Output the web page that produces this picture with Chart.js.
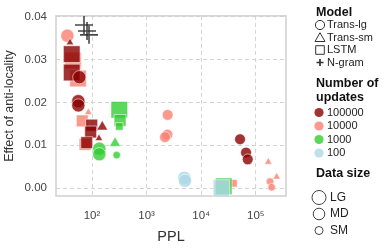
<!DOCTYPE html>
<html>
<head>
<meta charset="utf-8">
<script src="https://cdn.jsdelivr.net/npm/chart.js@4.4.0/dist/chart.umd.min.js"></script>
<style>
  html, body { margin: 0; padding: 0; background: #fff; }
  #wrap { width: 392px; height: 251px; position: relative; }
</style>
</head>
<body>
<div id="wrap"><canvas id="chart"></canvas></div>
<script>
// values (draw order = array order)
const ppl = [
  35.3, 44.9, 55.5, 85.6, 66.4, 74.5, 2430, 2400, 2170, 38700, 169000, 241000, 182000, 195000,
  39.5, 42.5, 42.5, 58.5, 56.1, 56.1, 98.8, 94.6, 154, 80, 134, 51400, 66200, 71100,
  316, 326, 316, 136, 136, 264, 283,
  4900, 5050, 25800, 23500,
  71.3, 81, 88.1
];
const effect = [
  0.0356, 0.0298, 0.0256, 0.0177, 0.0157, 0.0102, 0.0171, 0.0125, 0.0119, 0.0011, 0.0061, 0.0026, 0.0015, 0.0002,
  0.0340, 0.0313, 0.0270, 0.0259, 0.0203, 0.0193, 0.0147, 0.0131, 0.0143, 0.0106, 0.0116, 0.0114, 0.0083, 0.0067,
  0.0183, 0.0158, 0.0144, 0.0092, 0.0079, 0.0105, 0.0077,
  0.0024, 0.0017, 0.0004, 0.0000,
  0.0381, 0.0367, 0.0358
];
const model = [
  'Trans-lg', 'LSTM', 'LSTM', 'Trans-sm', 'LSTM', 'LSTM', 'Trans-lg', 'Trans-lg', 'Trans-lg', 'LSTM', 'Trans-sm', 'Trans-sm', 'Trans-lg', 'Trans-lg',
  'Trans-sm', 'LSTM', 'LSTM', 'Trans-lg', 'Trans-lg', 'Trans-lg', 'LSTM', 'LSTM', 'Trans-sm', 'LSTM', 'Trans-sm', 'Trans-lg', 'Trans-lg', 'Trans-lg',
  'LSTM', 'LSTM', 'LSTM', 'Trans-lg', 'Trans-lg', 'Trans-sm', 'Trans-lg',
  'Trans-lg', 'Trans-lg', 'LSTM', 'LSTM',
  'N-gram', 'N-gram', 'N-gram'
];
const updates = [
  10000, 10000, 10000, 10000, 10000, 10000, 10000, 10000, 10000, 10000, 10000, 10000, 10000, 10000,
  100000, 100000, 100000, 100000, 100000, 100000, 100000, 100000, 100000, 100000, 100000, 100000, 100000, 100000,
  1000, 1000, 1000, 1000, 1000, 1000, 1000,
  100, 100, 1000, 100,
  null, null, null
];
const dataSize = [
  'LG', 'LG', 'LG', 'SM', 'MD', 'MD', 'MD', 'MD', 'MD', 'SM', 'SM', 'SM', 'SM', 'SM',
  'SM', 'LG', 'LG', 'LG', 'LG', 'LG', 'MD', 'MD', 'MD', 'MD', 'SM', 'MD', 'MD', 'MD',
  'LG', 'MD', 'SM', 'LG', 'LG', 'MD', 'SM',
  'LG', 'LG', 'LG', 'LG',
  'LG', 'LG', 'LG'
];

const xTickValues = [100, 1000, 10000, 100000];
const xTickLabels = ['10²', '10³', '10⁴', '10⁵'];
const yTickValues = [0, 0.01, 0.02, 0.03, 0.04];

const modelNames = ['Trans-lg', 'Trans-sm', 'LSTM', 'N-gram'];
const updateLevels = [100000, 10000, 1000, 100];
const sizeNames = ['LG', 'MD', 'SM'];

// styling
var FONT = '"Liberation Sans", Arial, sans-serif';
var shapeOf = { 'Trans-lg': 'circle', 'Trans-sm': 'triangle', 'LSTM': 'rect', 'N-gram': 'cross' };
var colorOf = {
  100000: 'rgba(139,0,0,0.8)',
  10000: 'rgba(250,128,114,0.8)',
  1000: 'rgba(50,205,50,0.8)',
  100: 'rgba(173,216,230,0.8)'
};
var radiusOf = {
  circle:   { LG: 6.6, MD: 5.4, SM: 3.8 },
  triangle: { LG: 8, MD: 6.4, SM: 4.4 },
  rect:     { LG: 11.8, MD: 8.4, SM: 5.4 },
  cross:    { LG: 9, MD: 9, SM: 9 }
};

function pointShape(ctx) {
  var i = ctx.dataIndex;
  if (i === undefined) return 'circle';
  return shapeOf[model[i]];
}

var points = ppl.map(function(p, i) { return { x: p, y: effect[i] }; });

var frame = {
  id: 'frame',
  beforeDatasetsDraw: function(chart) {
    var a = chart.chartArea, c = chart.ctx;
    c.save();
    c.strokeStyle = '#cfcfcf';
    c.lineWidth = 1.5;
    c.strokeRect(a.left, a.top, a.right - a.left, a.bottom - a.top);
    c.restore();
  }
};

var sideLegend = {
  id: 'sideLegend',
  afterDraw: function(chart) {
    var c = chart.ctx;
    var tx = 316, mx = 320, lx = 327;
    c.save();
    c.textBaseline = 'middle';
    c.textAlign = 'left';
    function title(t, y) {
      c.font = 'bold 12.5px ' + FONT;
      c.fillStyle = '#111';
      c.fillText(t, tx, y);
    }
    function label(t, x, y) {
      c.font = '11px ' + FONT;
      c.fillStyle = '#222';
      c.fillText(t, x, y);
    }

    title('Model', 12.5);
    var my = [25, 37.5, 50, 62.5];
    c.strokeStyle = '#333';
    c.lineWidth = 1;
    modelNames.forEach(function(name, k) {
      var y = my[k];
      var s = shapeOf[name];
      c.beginPath();
      if (s === 'circle') {
        c.arc(mx, y, 4.6, 0, Math.PI * 2);
      } else if (s === 'triangle') {
        c.moveTo(mx, y - 4.8); c.lineTo(mx + 5, y + 4); c.lineTo(mx - 5, y + 4); c.closePath();
      } else if (s === 'rect') {
        c.rect(mx - 4.3, y - 4.3, 8.6, 8.6);
      } else {
        c.lineWidth = 1.7;
        c.moveTo(mx - 3.5, y); c.lineTo(mx + 3.5, y);
        c.moveTo(mx, y - 3.5); c.lineTo(mx, y + 3.5);
      }
      c.stroke();
      c.lineWidth = 1;
      label(name, lx, y);
    });

    title('Number of', 83.5);
    title('updates', 98);
    var uy = [112.5, 126, 139.5, 153];
    updateLevels.forEach(function(u, k) {
      c.beginPath();
      c.fillStyle = colorOf[u];
      c.arc(mx - 1, uy[k], 4.6, 0, Math.PI * 2);
      c.fill();
      label(String(u), lx, uy[k]);
    });

    title('Data size', 173.5);
    var sy = [197.5, 214, 230.5];
    var sr = { LG: 7, MD: 5.8, SM: 4 };
    c.strokeStyle = '#444';
    sizeNames.forEach(function(n, k) {
      c.beginPath();
      c.arc(mx - 1, sy[k], sr[n], 0, Math.PI * 2);
      c.stroke();
      c.font = '12px ' + FONT;
      c.fillStyle = '#222';
      c.fillText(n, 330, sy[k]);
    });
    c.restore();
  }
};

new Chart(document.getElementById('chart'), {
  type: 'scatter',
  data: {
    datasets: [{
      data: points,
      pointStyle: pointShape,
      pointRadius: function(ctx) {
        var i = ctx.dataIndex;
        if (i === undefined) return 3;
        return radiusOf[shapeOf[model[i]]][dataSize[i]];
      },
      pointBackgroundColor: function(ctx) {
        var i = ctx.dataIndex;
        if (i === undefined || updates[i] === null) return 'rgba(0,0,0,0)';
        return colorOf[updates[i]];
      },
      pointBorderColor: function(ctx) {
        var i = ctx.dataIndex;
        if (i !== undefined && updates[i] === null) return 'rgba(40,40,40,0.85)';
        return 'rgba(255,255,255,0.7)';
      },
      pointBorderWidth: function(ctx) {
        var i = ctx.dataIndex;
        if (i !== undefined && updates[i] === null) return 1.6;
        return 0.8;
      },
      pointHoverRadius: 0
    }]
  },
  options: {
    responsive: true,
    maintainAspectRatio: false,
    animation: false,
    events: [],
    layout: { padding: { top: 15, right: 106, left: 0, bottom: 0 } },
    plugins: {
      legend: { display: false },
      tooltip: { enabled: false }
    },
    scales: {
      x: {
        type: 'logarithmic',
        min: 21.9,
        max: 357000,
        afterBuildTicks: function(scale) {
          scale.ticks = xTickValues.map(function(v) { return { value: v }; });
        },
        afterFit: function(scale) { scale.height = 55; },
        ticks: {
          autoSkip: false,
          maxRotation: 0,
          padding: 13,
          color: '#444',
          font: { family: FONT, size: 11.5 },
          callback: function(v) {
            var k = xTickValues.indexOf(v);
            return k >= 0 ? xTickLabels[k] : '';
          }
        },
        grid: { color: '#d4d4d4', lineWidth: 1, drawTicks: false },
        border: { display: false, dash: [4, 3] },
        title: {
          display: true,
          text: 'PPL',
          color: '#333',
          font: { family: FONT, size: 14.5 },
          padding: { top: 0, bottom: 5 }
        }
      },
      y: {
        min: -0.00186,
        max: 0.04023,
        afterBuildTicks: function(scale) {
          scale.ticks = yTickValues.map(function(v) { return { value: v }; });
        },
        afterFit: function(scale) { scale.width = 56; },
        ticks: {
          padding: 9,
          color: '#444',
          font: { family: FONT, size: 11.5 },
          callback: function(v) { return v.toFixed(2); }
        },
        grid: { color: '#d4d4d4', lineWidth: 1, drawTicks: false },
        border: { display: false, dash: [4, 3] },
        title: {
          display: true,
          text: 'Effect of anti-locality',
          color: '#333',
          font: { family: FONT, size: 12.5 },
          padding: { top: 2, bottom: 0 }
        }
      }
    }
  },
  plugins: [frame, sideLegend]
});
</script>
</body>
</html>
